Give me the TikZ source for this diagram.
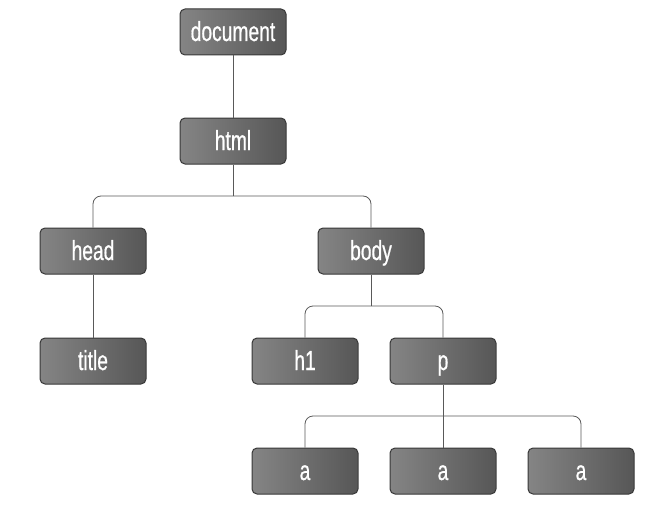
\documentclass[tikz,border=0pt]{standalone}
\usepackage{fontspec}
\setmainfont{Liberation Sans}[FakeStretch=0.7,FakeBold=0.6]
\begin{document}
\begin{tikzpicture}[x=1pt,y=-1pt,
  domnode/.style={draw=black!78,line width=1pt,rounded corners=5pt,
    minimum width=106pt,minimum height=46pt,inner sep=0pt,
    text height=20pt,text depth=2pt,
    left color=black!48,right color=black!66,
    text=white,font=\fontsize{27.5}{29}\selectfont},
  link/.style={draw=black!65,line width=0.8pt},
  bus/.style={link,rounded corners=8pt}]
\useasboundingbox (0,0) rectangle (650,511);
\node[domnode] (document) at (233,32) {document};
\node[domnode] (html) at (233,141) {html};
\node[domnode] (head) at (93,251) {head};
\node[domnode] (body) at (371,251) {body};
\node[domnode] (title) at (93,361) {title};
\node[domnode] (h1) at (305,361) {h1};
\node[domnode] (p) at (443,361) {p};
\node[domnode] (a1) at (305,471) {a};
\node[domnode] (a2) at (443,471) {a};
\node[domnode] (a3) at (581,471) {a};
\coordinate (j1) at (233,196);
\coordinate (j2) at (371,306);
\coordinate (j3) at (443,416);
\draw[link] (document.south) -- (html.north);
\draw[link] (html.south) -- (j1);
\draw[bus] (j1) -| (head.north);
\draw[bus] (j1) -| (body.north);
\draw[link] (head.south) -- (title.north);
\draw[link] (body.south) -- (j2);
\draw[bus] (j2) -| (h1.north);
\draw[bus] (j2) -| (p.north);
\draw[link] (p.south) -- (a2.north);
\draw[bus] (j3) -| (a1.north);
\draw[bus] (j3) -| (a3.north);
\end{tikzpicture}
\end{document}
